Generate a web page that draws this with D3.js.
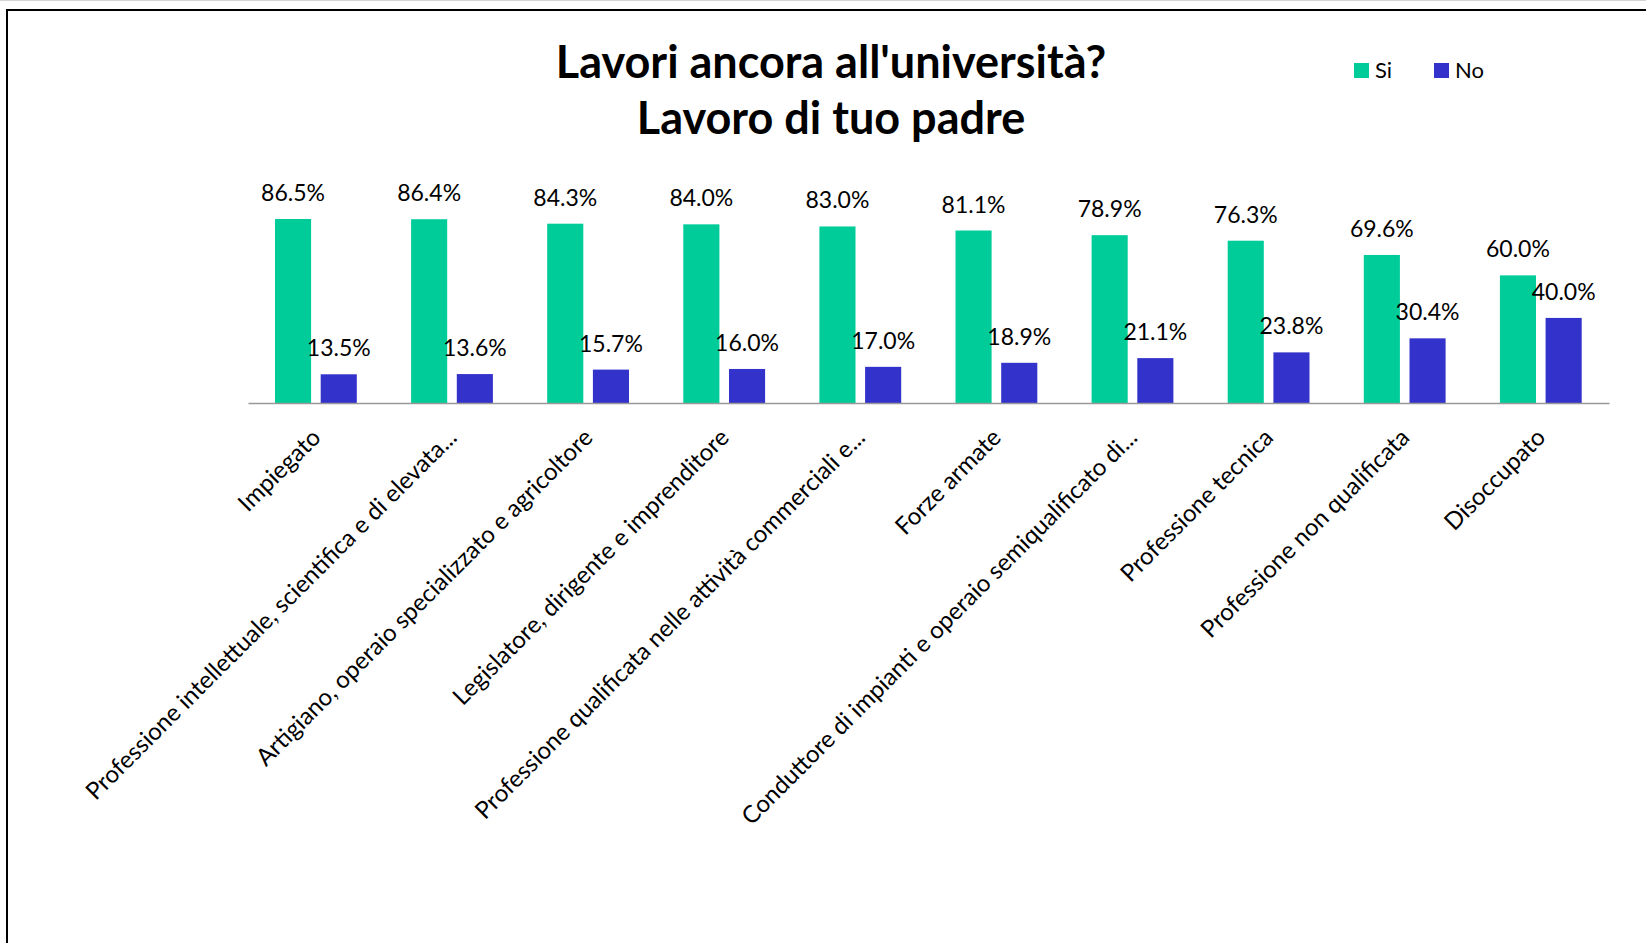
<!DOCTYPE html>
<html>
<head>
<meta charset="utf-8">
<script src="https://cdn.jsdelivr.net/npm/d3@7"></script>
<style>
  html, body { margin: 0; padding: 0; background: #fff; }
  svg { display: block; }
</style>
</head>
<body>
<svg id="chart" width="1646" height="943"></svg>
<script>
const titleLines = ["Lavori ancora all'università?", "Lavoro di tuo padre"];
const categories = [
  "Impiegato",
  "Professione intellettuale, scientifica e di elevata...",
  "Artigiano, operaio specializzato e agricoltore",
  "Legislatore, dirigente e imprenditore",
  "Professione qualificata nelle attività commerciali e...",
  "Forze armate",
  "Conduttore di impianti e operaio semiqualificato di...",
  "Professione tecnica",
  "Professione non qualificata",
  "Disoccupato"
];
const seriesNames = ["Si", "No"];
const siValues = [86.5, 86.4, 84.3, 84.0, 83.0, 81.1, 78.9, 76.3, 69.6, 60.0];
const noValues = [13.5, 13.6, 15.7, 16.0, 17.0, 18.9, 21.1, 23.8, 30.4, 40.0];
const colors = ["#00CC99", "#3333CC"];

const svg = d3.select("#chart");

// outer frame
svg.append("line").attr("x1", 0).attr("x2", 1646).attr("y1", 0.5).attr("y2", 0.5)
  .attr("stroke", "#d4d4d4").attr("stroke-width", 1);
svg.append("rect").attr("x", 7).attr("y", 10).attr("width", 1700).attr("height", 1000)
  .attr("fill", "none").attr("stroke", "#000").attr("stroke-width", 2);

// title
svg.append("g").selectAll("text").data(titleLines).join("text")
  .attr("x", 831).attr("y", (d, i) => 78 + i * 56)
  .attr("text-anchor", "middle")
  .attr("font-family", "Lato, 'Open Sans', sans-serif")
  .attr("font-weight", "bold").attr("font-size", 45)
  .attr("fill", "#000")
  .text(d => d);

// scales
const x0 = d3.scaleBand().domain(categories).range([248, 1609]).padding(0);
const x1 = d3.scaleBand().domain(seriesNames).range([27, 108.8]).paddingInner(0.21).paddingOuter(0);
const y = d3.scaleLinear().domain([0, 100]).range([403, 190.3]);

const data = categories.map((c, i) => ({ cat: c, vals: [
  { key: "Si", v: siValues[i] }, { key: "No", v: noValues[i] }
]}));

const groups = svg.append("g").selectAll("g").data(data).join("g")
  .attr("transform", d => `translate(${x0(d.cat)},0)`);

groups.selectAll("rect").data(d => d.vals).join("rect")
  .attr("x", d => x1(d.key))
  .attr("y", d => y(d.v))
  .attr("width", x1.bandwidth())
  .attr("height", d => y(0) - y(d.v))
  .attr("fill", (d, i) => colors[i]);

groups.selectAll("text").data(d => d.vals).join("text")
  .attr("x", d => x1(d.key) + x1.bandwidth() / 2)
  .attr("y", d => y(d.v) - 18)
  .attr("text-anchor", "middle")
  .attr("font-family", "Lato, 'Open Sans', sans-serif")
  .attr("font-size", 23)
  .attr("fill", "#000")
  .text(d => d.v.toFixed(1) + "%");

// x axis
const axis = svg.append("g").attr("transform", `translate(0,${y(0)})`)
  .call(d3.axisBottom(x0).tickSize(0).tickSizeOuter(0));
axis.select(".domain").attr("stroke", "#999").attr("stroke-width", 1.6);
axis.selectAll(".tick text")
  .attr("x", 0).attr("y", 0).attr("dy", 0)
  .attr("text-anchor", "end")
  .attr("transform", "translate(6,36) rotate(-45)")
  .attr("font-family", "Lato, 'Open Sans', sans-serif")
  .attr("font-size", 24)
  .attr("fill", "#000");

// legend
const legend = svg.append("g").selectAll("g").data(seriesNames).join("g")
  .attr("transform", (d, i) => `translate(${1354 + i * 80},63)`);
legend.append("rect").attr("width", 15).attr("height", 15).attr("fill", (d, i) => colors[i]);
legend.append("text").attr("x", 21).attr("y", 15)
  .attr("font-family", "Lato, 'Open Sans', sans-serif")
  .attr("font-size", 22).attr("fill", "#000")
  .text(d => d);
</script>
</body>
</html>
